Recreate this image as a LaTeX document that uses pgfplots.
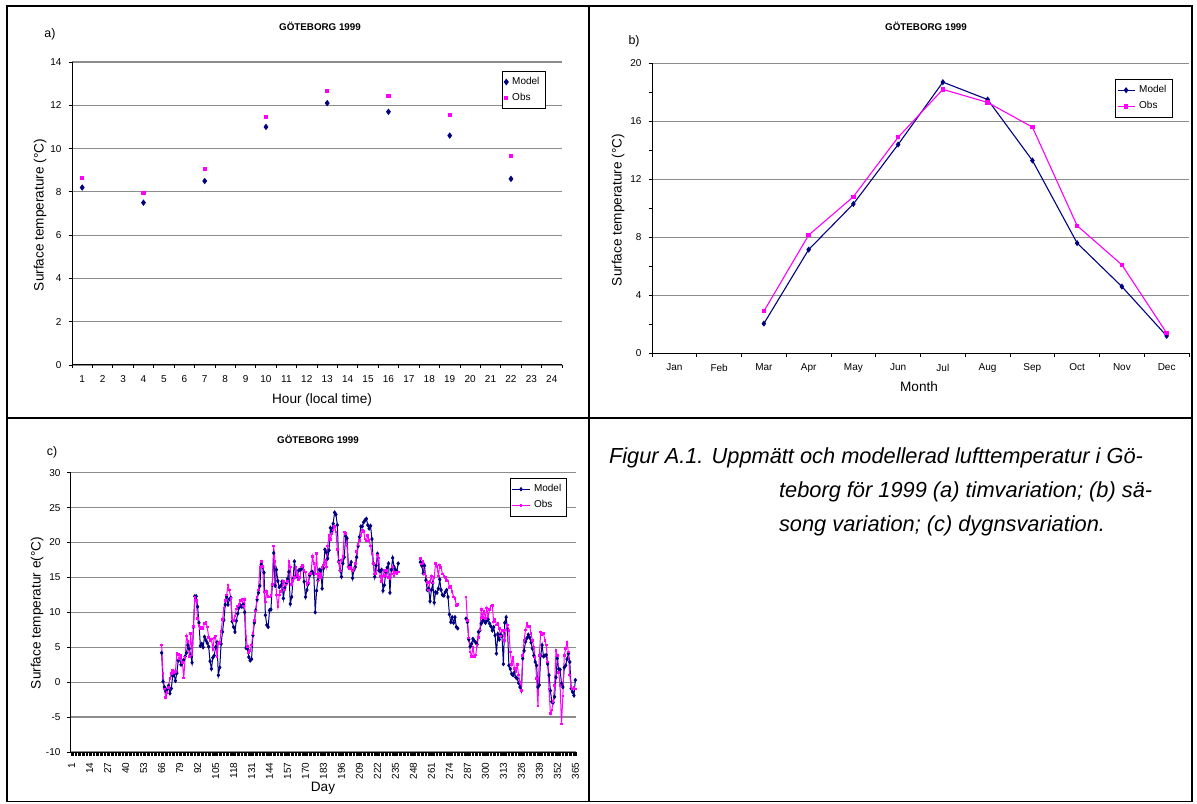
\documentclass[border=0pt]{standalone}
\usepackage{fontspec}
\setmainfont{Liberation Sans}
\usepackage{pgfplots}
\pgfplotsset{compat=1.18}
\definecolor{model}{RGB}{0,0,128}
\definecolor{obs}{RGB}{255,0,255}
\definecolor{gridc}{RGB}{140,140,140}
\newcommand{\tickfont}{\fontsize{5}{6}\selectfont}
\newcommand{\labfont}{\fontsize{6.8}{8}\selectfont}
\newcommand{\titfont}{\fontsize{4.9}{6}\selectfont\bfseries}
\newcommand{\letfont}{\fontsize{6.2}{7}\selectfont}
\newcommand{\capfont}{\fontsize{10.9}{13}\selectfont\itshape}

\pgfplotsset{
  excel/.style={
    scale only axis, anchor=south west,
    axis lines*=left,
    axis line style={black, line width=0.5pt},
    tick align=outside,
    tick style={black, line width=0.4pt},
    major tick length=1.75pt, minor tick length=1.75pt,
    ymajorgrids, major grid style={gridc, line width=0.6pt},
    tick label style={font=\tickfont},
    /pgf/number format/assume math mode=true,
    legend style={draw=black, line width=0.5pt, font=\tickfont, fill=white,
      inner sep=0.8pt, row sep=-1pt, anchor=north west},
    legend cell align=left,
  },
  linelegend/.style={
    legend image code/.code={\draw[mark repeat=2,mark phase=2,##1] plot coordinates {(0cm,0cm)(0.15cm,0cm)(0.3cm,0cm)};}
  },
}

\begin{document}
\begin{tikzpicture}[x=0.5pt,y=0.5pt]
\useasboundingbox (0,0) rectangle (1197,803);

% ---------- panel a: hourly
\begin{axis}[excel, at={(36pt,219pt)},
  width=245pt, height=151.5pt,
  xmin=0.5, xmax=24.5, ymin=0, ymax=14,
  xtick={1,...,24}, minor xtick={0.5,1.5,...,24.5},
  every major x tick/.append style={draw=none},
  ytick={0,2,...,14},
  legend style={at={(0.878,0.971)}},
  legend image code/.code={\draw[#1] plot coordinates {(0cm,0cm)};},
]
\addplot[only marks, mark=diamond*, mark size=1.3pt, color=model] coordinates {
  (1,8.2)(4,7.5)(7,8.5)(10,11.0)(13,12.1)(16,11.7)(19,10.6)(22,8.6)};
\addlegendentry{Model}
\addplot[only marks, mark=square*, mark size=0.8pt, color=obs] coordinates {
  (1,8.65)(4,7.95)(7,9.05)(10,11.45)(13,12.65)(16,12.45)(19,11.55)(22,9.65)};
\addlegendentry{Obs}
\end{axis}
\node[font=\titfont] at (320,776.3) {GÖTEBORG 1999};
\node[font=\letfont] at (50,769) {a)};
\node[font=\labfont, rotate=90] at (40,588) {Surface temperature (°C)};
\node[font=\labfont] at (322,403) {Hour (local time)};

% ---------- panel b: monthly
\begin{axis}[excel, linelegend, at={(326pt,224.85pt)},
  width=268.5pt, height=145pt,
  xmin=0.5, xmax=12.5, ymin=0, ymax=20,
  xtick={1,...,12}, minor xtick={0.5,1.5,...,12.5},
  every major x tick/.append style={draw=none},
  xticklabels={Jan,Feb,Mar,Apr,May,Jun,Jul,Aug,Sep,Oct,Nov,Dec},
  ytick={0,4,...,20}, minor ytick={2,6,...,18},
  legend style={at={(0.862,0.946)}},
]
\addplot[color=model, line width=0.55pt, mark=diamond*, mark size=1.1pt] coordinates {
  (3,2.05)(4,7.15)(5,10.3)(6,14.4)(7,18.7)(8,17.5)(9,13.3)(10,7.6)(11,4.6)(12,1.2)};
\addlegendentry{Model}
\addplot[color=obs, line width=0.55pt, mark=square*, mark size=0.8pt] coordinates {
  (3,2.9)(4,8.15)(5,10.8)(6,14.9)(7,18.2)(8,17.3)(9,15.6)(10,8.8)(11,6.1)(12,1.4)};
\addlegendentry{Obs}
\end{axis}
\node[font=\titfont] at (926,777) {GÖTEBORG 1999};
\node[font=\letfont] at (634,762) {b)};
\node[font=\labfont, rotate=90] at (618,593) {Surface temperature (°C)};
\node[font=\labfont] at (919,416) {Month};

% ---------- panel c: daily
\begin{axis}[excel, linelegend, at={(35.5pt,25.5pt)},
  width=252.5pt, height=139.65pt,
  xmin=0.5, xmax=365.5, ymin=-10, ymax=30,
  xtick={1,14,...,365}, minor xtick={0.5,1.5,...,365.5},
  xticklabel style={rotate=90, anchor=east},
  ytick={-10,-5,...,30},
  unbounded coords=jump,
  legend style={at={(0.869,0.981)}},
]
\addplot[color=model, line width=0.5pt, mark=diamond*, mark size=0.75pt] coordinates {
(66,4.2)(67,0.1)(68,-0.7)(69,-1.3)(70,-1.0)(71,-0.5)(72,-1.6)(73,-0.9)(74,0.9)(75,1.1)
(76,0.2)(77,1.3)(78,3.1)(79,3.3)(80,2.5)(81,2.8)(82,3.2)(83,3.7)(84,4.2)(85,5.3)
(86,4.8)(87,3.9)(88,2.8)(89,7.9)(90,12.3)(91,12.3)(92,10.8)(93,8.5)(94,5.2)(95,5.5)
(96,5.0)(97,6.5)(98,6.0)(99,5.6)(100,5.1)(101,3.0)(102,1.9)(103,3.5)(104,3.8)(105,5.0)
(106,5.7)(107,1.0)(108,2.1)(109,5.5)(110,7.2)(111,8.9)(112,11.1)(113,12.2)(114,11.1)(115,11.9)
(116,12.1)(117,8.7)(118,7.9)(119,7.2)(120,8.8)(121,9.8)(122,10.7)(123,11.0)(124,10.8)(125,11.1)
(126,10.0)(127,4.9)(128,4.8)(129,3.6)(130,3.1)(131,3.3)(132,6.7)(133,8.5)(134,10.3)(135,11.8)
(136,12.8)(137,13.8)(138,16.9)(139,16.5)(140,15.7)(141,9.6)(142,8.2)(143,7.9)(144,10.3)(145,10.4)
(146,13.9)(147,18.5)(148,13.8)(149,16.1)(150,14.5)(151,13.6)(152,13.8)(153,14.4)(154,12.0)(155,13.5)
(156,14.1)(157,14.8)(158,15.8)(159,11.2)(160,12.2)(161,14.8)(162,17.3)(163,15.1)(164,15.2)(165,16.0)
(166,16.1)(167,16.2)(168,16.6)(169,14.4)(170,12.2)(171,13.2)(172,14.1)(173,15.3)(174,15.7)(175,15.8)
(176,15.5)(177,10.0)(178,13.1)(179,14.6)(180,16.1)(181,16.0)(182,13.4)(183,16.3)(184,19.0)(185,18.6)
(186,17.7)(187,18.9)(188,22.1)(189,21.5)(190,22.7)(191,24.3)(192,24.0)(193,22.5)(194,17.3)(195,16.0)
(196,15.1)(197,17.0)(198,17.9)(199,20.9)(200,20.6)(201,16.5)(202,16.7)(203,17.2)(204,14.9)(205,16.1)
(206,16.5)(207,17.9)(208,19.5)(209,20.8)(210,22.3)(211,22.3)(212,22.9)(213,23.2)(214,23.4)(215,22.5)
(216,22.0)(217,22.4)(218,20.5)(219,17.0)(220,15.1)(221,16.7)(222,18.4)(223,16.0)(224,15.9)(225,16.1)
(226,13.1)(227,13.9)(228,15.8)(229,16.4)(230,17.0)(231,12.8)(232,16.1)(233,17.8)(234,16.5)(235,16.1)
(236,15.9)(237,17.0)(245,nan)
(253,17.2)(254,16.7)(255,15.6)(256,16.7)(257,14.6)(258,13.2)(259,13.4)(260,11.6)(261,13.2)(262,14.2)
(263,11.4)(264,12.9)(265,12.8)(266,13.4)(267,14.7)(268,13.2)(269,12.5)(270,12.4)(271,12.9)(272,13.2)
(273,12.2)(274,9.7)(275,8.6)(276,9.3)(277,8.5)(278,9.3)(279,7.9)(280,7.7)(283,nan)
(286,9.1)(287,8.6)(288,6.1)(289,5.1)(290,5.5)(291,6.2)(292,5.9)(293,5.7)(294,5.4)(295,7.2)
(296,7.4)(297,8.4)(298,8.8)(299,8.8)(300,8.5)(301,8.8)(302,9.0)(303,8.4)(304,8.0)(305,7.4)
(306,7.9)(307,6.7)(308,4.1)(309,6.9)(310,6.1)(311,6.8)(312,6.6)(313,2.6)(314,8.5)(315,9.3)
(316,7.5)(317,2.4)(318,1.9)(319,1.2)(320,1.0)(321,1.4)(322,0.7)(323,0.5)(324,-0.1)(325,-0.7)
(326,-1.2)(327,3.4)(328,4.5)(329,5.8)(330,6.3)(331,6.8)(332,6.4)(333,5.7)(334,4.8)(335,3.8)
(336,2.9)(337,2.4)(338,-0.7)(339,-0.4)(340,3.8)(341,5.3)(342,3.7)(343,3.8)(344,3.9)(345,2.6)
(346,1.0)(347,-1.2)(348,-2.8)(349,-2.9)(350,-2.1)(351,0.7)(352,3.4)(353,1.9)(354,1.8)(355,-0.2)
(356,-0.7)(357,2.1)(358,2.4)(359,3.3)(360,4.1)(361,2.9)(362,-0.9)(363,-1.4)(364,-1.9)(365,0.3)
};
\addlegendentry{Model}
\addplot[color=obs, line width=0.5pt, mark=square*, mark size=0.4pt] coordinates {
(66,5.3)(67,1.2)(68,-1.0)(69,-2.2)(70,-1.5)(71,-0.8)(72,0.5)(73,1.2)(74,1.7)(75,1.3)
(76,1.5)(77,4.2)(78,4.0)(79,3.4)(80,3.8)(81,2.8)(82,0.6)(83,3.5)(84,6.6)(85,5.8)
(86,3.7)(87,7.0)(88,4.0)(89,8.0)(90,12.2)(91,11.7)(92,9.1)(93,8.1)(94,7.6)(95,7.8)
(96,7.6)(97,8.4)(98,8.6)(99,7.9)(100,6.4)(101,5.9)(102,6.2)(103,4.7)(104,6.3)(105,6.6)
(106,3.6)(107,5.5)(108,5.7)(109,7.3)(110,9.0)(111,10.6)(112,11.7)(113,12.5)(114,13.9)(115,13.2)
(116,12.0)(117,9.2)(118,8.8)(119,9.5)(120,10.5)(121,10.9)(122,11.1)(123,11.7)(124,11.9)(125,10.9)
(126,11.8)(127,6.5)(128,5.1)(129,4.2)(130,4.5)(131,5.3)(132,7.0)(133,8.8)(134,10.2)(135,12.1)
(136,13.2)(137,16.4)(138,17.3)(139,16.6)(140,12.9)(141,11.5)(142,13.0)(143,12.3)(144,12.2)(145,12.4)
(146,14.0)(147,19.5)(148,17.3)(149,12.5)(150,10.8)(151,12.5)(152,13.0)(153,13.5)(154,14.4)(155,13.2)
(156,13.9)(157,14.4)(158,17.3)(159,16.5)(160,14.0)(161,14.6)(162,15.0)(163,16.5)(164,15.3)(165,14.7)
(166,15.0)(167,16.5)(168,16.7)(169,16.0)(170,15.8)(171,13.9)(172,14.2)(173,15.5)(174,15.6)(175,18.0)
(176,17.0)(177,15.5)(178,18.4)(179,14.5)(180,15.5)(181,15.0)(182,16.4)(183,16.8)(184,17.5)(185,16.5)
(186,19.5)(187,21.0)(188,20.4)(189,21.3)(190,21.8)(191,22.3)(192,21.5)(193,19.0)(194,17.2)(195,16.0)
(196,17.5)(197,18.0)(198,21.5)(199,21.3)(200,19.5)(201,16.5)(202,16.2)(203,16.5)(204,15.9)(205,16.3)
(206,17.0)(207,18.7)(208,19.7)(209,20.3)(210,21.0)(211,21.8)(212,21.6)(213,20.5)(214,20.2)(215,21.0)
(216,20.3)(217,19.5)(218,18.4)(219,17.0)(220,15.5)(221,15.6)(222,18.2)(223,17.8)(224,15.1)(225,14.4)
(226,15.2)(227,16.0)(228,15.3)(229,16.0)(230,15.0)(231,14.8)(232,15.5)(233,16.5)(234,15.2)(235,15.7)
(236,15.5)(237,15.8)(245,nan)
(253,17.7)(254,16.9)(255,17.3)(256,15.5)(257,15.2)(258,14.3)(259,13.2)(260,14.4)(261,15.2)(262,14.2)
(263,15.0)(264,17.0)(265,16.6)(266,15.2)(267,16.8)(268,16.4)(269,15.5)(270,15.2)(271,15.0)(272,14.6)
(273,14.5)(274,13.6)(275,13.8)(276,13.0)(277,12.2)(278,12.0)(279,11.0)(280,11.1)(283,nan)
(286,12.2)(287,8.8)(288,6.3)(289,4.3)(290,3.7)(291,5.0)(292,3.7)(293,3.9)(294,5.3)(295,6.4)
(296,7.5)(297,10.4)(298,9.3)(299,10.2)(300,9.1)(301,10.6)(302,9.4)(303,10.4)(304,10.9)(305,11.0)
(306,8.6)(307,9.0)(308,8.2)(309,8.4)(310,7.7)(311,6.6)(312,7.5)(313,7.4)(314,6.0)(315,7.5)
(316,8.2)(317,7.4)(318,4.3)(319,2.5)(320,3.5)(321,2.0)(322,1.5)(323,2.5)(324,1.0)(325,0.0)
(326,-1.2)(327,3.8)(328,6.0)(329,7.5)(330,8.4)(331,8.0)(332,8.0)(333,7.0)(334,6.0)(335,5.0)
(336,3.5)(337,0.5)(338,-3.4)(339,3.8)(340,7.2)(341,6.8)(342,7.0)(343,6.0)(344,5.3)(345,2.9)
(346,-1.0)(347,-4.5)(348,-4.0)(349,-2.8)(350,-0.5)(351,4.5)(352,3.8)(353,1.4)(354,-0.5)(355,-6.0)
(356,-2.0)(357,3.8)(358,4.8)(359,5.7)(360,4.3)(361,1.0)(362,-0.7)(363,-1.0)(364,-0.7)(365,-1.0)
};
\addlegendentry{Obs}
\end{axis}
\node[font=\titfont] at (318,364) {GÖTEBORG 1999};
\node[font=\letfont] at (52,351) {c)};
\node[font=\labfont, rotate=90] at (37,190) {Surface temperatur e(°C)};
\node[font=\labfont] at (323,15) {Day};

% ---------- caption
\node[font=\capfont, anchor=base west] at (602,339) {Figur A.1. Uppmätt och modellerad lufttemperatur i Gö-};
\node[font=\capfont, anchor=base west] at (772,305) {teborg för 1999 (a) timvariation; (b) sä-};
\node[font=\capfont, anchor=base west] at (772,271) {song variation; (c) dygnsvariation.};

% ---------- frame
\draw[line width=0.85pt] (7,797) rectangle (1192,1.5);
\draw[line width=0.85pt] (589,797) -- (589,1.5);
\draw[line width=0.85pt] (7,385) -- (1192,385);
\end{tikzpicture}
\end{document}
